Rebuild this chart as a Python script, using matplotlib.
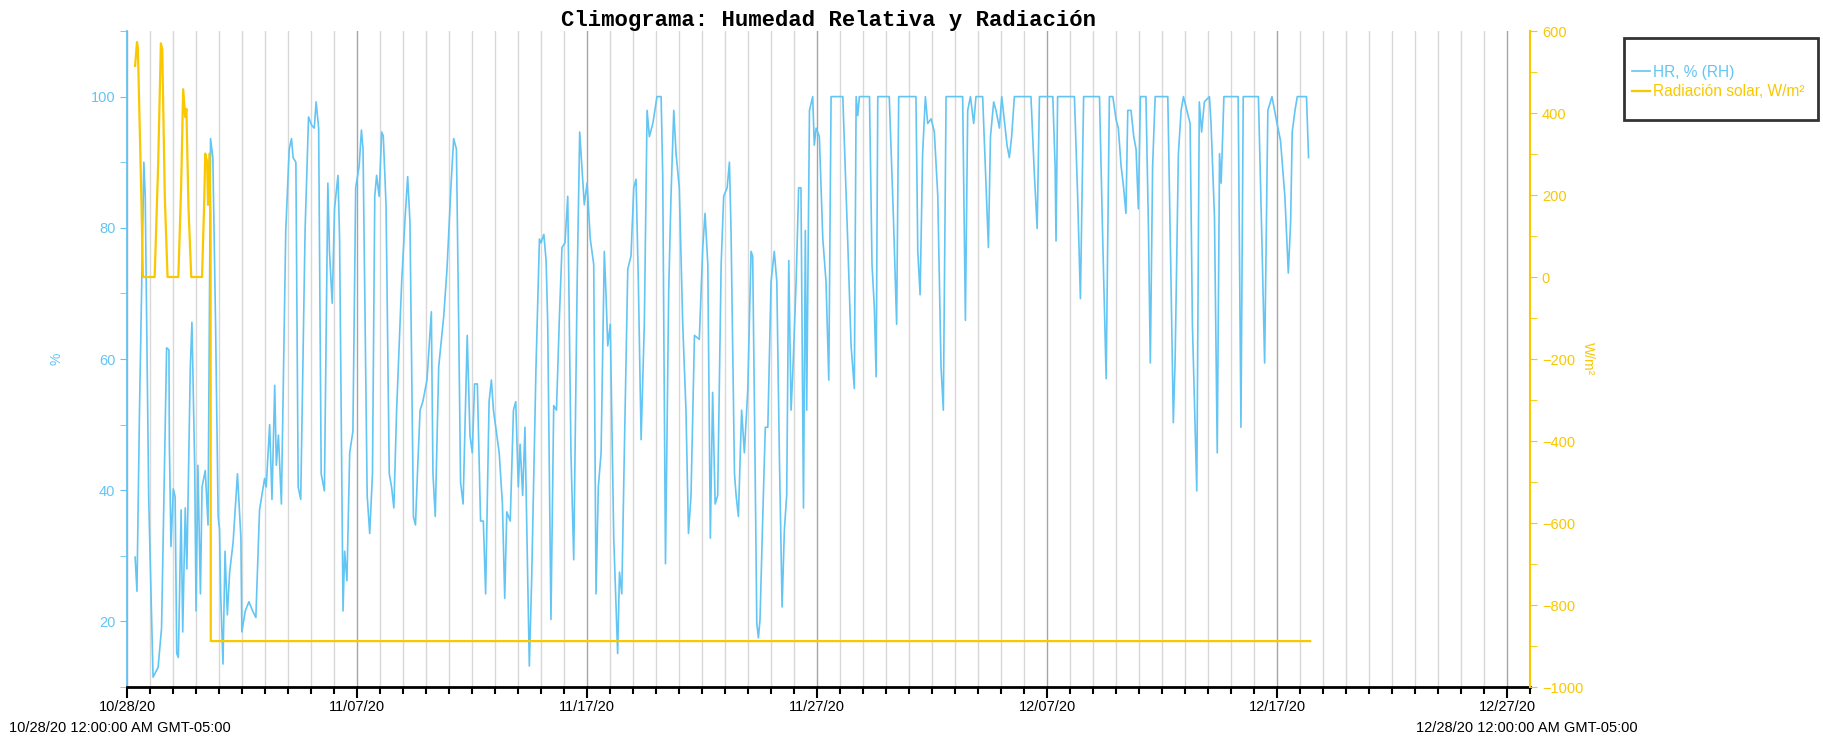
# Climograma: humedad relativa y radiacion solar
import pandas as pd
import matplotlib.pyplot as plt
import matplotlib.dates as mdates
from matplotlib.ticker import MultipleLocator, FixedLocator
from matplotlib.patches import Rectangle

plt.rcParams['font.family'] = ['Liberation Sans', 'DejaVu Sans']

# ==========================================
# DATA (days since 10/28/20 00:00)
# ==========================================

start = pd.Timestamp('2020-10-28')
end = pd.Timestamp('2020-12-28')

rh_days = [
    0.35, 0.43, 0.54, 0.73, 0.79, 0.94, 1.13, 1.35, 1.5, 1.64, 1.72, 1.82, 1.84, 1.91,
    2.01, 2.09, 2.16, 2.23, 2.35, 2.42, 2.53, 2.6, 2.75, 2.82, 2.94, 3.0, 3.08, 3.19,
    3.26, 3.4, 3.52, 3.63, 3.73, 3.85, 3.96, 4.02, 4.07, 4.17, 4.26, 4.36, 4.46, 4.61,
    4.8, 4.95, 4.99, 5.14, 5.3, 5.46, 5.6, 5.76, 5.98, 6.05, 6.2, 6.3, 6.42, 6.49,
    6.58, 6.71, 6.9, 7.05, 7.15, 7.22, 7.34, 7.44, 7.55, 7.74, 7.89, 8.03, 8.14, 8.22,
    8.33, 8.44, 8.58, 8.73, 8.8, 8.92, 9.02, 9.17, 9.24, 9.39, 9.46, 9.56, 9.68, 9.82,
    9.94, 10.09, 10.19, 10.26, 10.44, 10.55, 10.67, 10.77, 10.85, 10.96, 11.07, 11.14,
    11.26, 11.4, 11.5, 11.6, 11.72, 11.94, 12.09, 12.2, 12.3, 12.45, 12.54, 12.64,
    12.74, 12.86, 13.04, 13.23, 13.3, 13.4, 13.55, 13.77, 13.91, 14.09, 14.2, 14.32,
    14.42, 14.5, 14.61, 14.79, 14.91, 15.01, 15.11, 15.23, 15.37, 15.49, 15.59, 15.74,
    15.84, 15.93, 16.03, 16.18, 16.32, 16.42, 16.51, 16.66, 16.8, 16.9, 17.01, 17.09,
    17.2, 17.3, 17.39, 17.49, 17.59, 17.78, 17.93, 18.0, 18.12, 18.22, 18.29, 18.43,
    18.55, 18.67, 18.8, 18.91, 19.04, 19.16, 19.3, 19.42, 19.57, 19.68, 19.88, 20.0,
    20.14, 20.29, 20.39, 20.49, 20.61, 20.75, 20.83, 20.9, 21.01, 21.16, 21.33, 21.41,
    21.51, 21.62, 21.77, 21.91, 22.03, 22.13, 22.23, 22.35, 22.49, 22.61, 22.71, 22.86,
    23.04, 23.22, 23.29, 23.41, 23.55, 23.65, 23.77, 23.87, 24.01, 24.16, 24.3, 24.41,
    24.52, 24.67, 24.88, 25.03, 25.13, 25.25, 25.36, 25.46, 25.57, 25.68, 25.83, 25.94,
    26.09, 26.19, 26.26, 26.41, 26.48, 26.58, 26.72, 26.84, 26.99, 27.13, 27.2, 27.28,
    27.38, 27.45, 27.52, 27.64, 27.75, 27.86, 28.0, 28.14, 28.25, 28.36, 28.48, 28.58,
    28.68, 28.77, 28.87, 28.94, 29.09, 29.2, 29.3, 29.41, 29.49, 29.55, 29.67, 29.81,
    29.88, 29.96, 30.1, 30.25, 30.39, 30.51, 30.61, 31.12, 31.33, 31.48, 31.62, 31.7,
    31.77, 31.84, 32.28, 32.39, 32.49, 32.57, 32.64, 33.14, 33.32, 33.46, 33.55, 34.3,
    34.38, 34.48, 34.59, 34.71, 34.81, 34.96, 35.1, 35.25, 35.39, 35.49, 35.61, 36.33,
    36.45, 36.55, 36.67, 36.81, 36.91, 37.2, 37.45, 37.54, 37.68, 37.78, 37.93, 38.03,
    38.26, 38.36, 38.46, 38.58, 39.3, 39.45, 39.57, 39.67, 40.25, 40.35, 40.39, 40.46,
    41.19, 41.33, 41.45, 41.59, 42.28, 42.42, 42.57, 42.71, 42.86, 43.0, 43.1, 43.22,
    43.33, 43.43, 43.51, 43.65, 43.77, 43.87, 43.97, 44.06, 44.3, 44.41, 44.49, 44.59,
    44.7, 45.25, 45.39, 45.49, 45.57, 45.71, 45.83, 45.93, 46.22, 46.32, 46.51, 46.62,
    46.72, 46.84, 47.06, 47.13, 47.28, 47.4, 47.5, 47.57, 47.69, 48.31, 48.43, 48.53,
    49.19, 49.34, 49.46, 49.6, 49.78, 50.0, 50.15, 50.34, 50.49, 50.59, 50.66, 50.78,
    50.88, 51.28, 51.37,
]

rh_values = [
    29.8, 24.6, 52, 90, 84.8, 39, 11.5, 13, 19, 45.7, 61.7, 61.4, 47, 31.4,
    40.2, 39, 15.1, 14.5, 37, 18.4, 37.3, 28, 58.8, 65.6, 43.8, 21.6, 43.8, 24.2,
    40.5, 43, 34.7, 93.6, 90.7, 65, 36, 34, 24.2, 13.5, 30.7, 21, 27.5, 32,
    42.5, 32.7, 18.4, 21.6, 23, 21.6, 20.6, 37, 41.8, 40.5, 50, 38.6, 56, 43.8,
    48.4, 37.9, 79.6, 92, 93.6, 90.7, 90, 40.5, 38.6, 79.6, 96.9, 95.6, 95.2, 99.2,
    95.2, 42.5, 39.9, 86.8, 76.4, 68.5, 82.9, 88, 78.3, 21.6, 30.7, 26.2, 45.7, 49,
    86.1, 89.4, 94.9, 92, 39.2, 33.4, 42.5, 84.8, 88, 84.8, 94.6, 94,
    83.5, 42.5, 40.5, 37.3, 52.2, 71.8, 81.6, 87.8, 80.9, 36, 34.7, 43.8,
    52.2, 53.5, 56.8, 67.2, 42.5, 36, 58.8, 66.6, 73.7, 86.8, 93.6, 92,
    65, 41.2, 37.9, 63.6, 48.3, 45.7, 56.2, 56.2, 35.3, 35.3, 24.2, 53.5,
    56.8, 52.2, 49.6, 45.7, 37.9, 23.5, 36.7, 35.3, 52.2, 53.5, 40.5, 47,
    39.2, 49.6, 32.7, 13.2, 26.2, 58.8, 78.3, 77.7, 79, 75, 65.3, 20.3,
    52.9, 52.2, 66.6, 77, 77.7, 84.8, 45.7, 29.4, 71.8, 94.6, 83.5, 86.8,
    78.3, 74.4, 24.2, 40.5, 45.7, 76.4, 69.2, 62, 65.3, 32.7, 15.1, 27.5,
    24.2, 45.7, 73.7, 75.7, 86.1, 87.4, 71.8, 47.7, 65.3, 97.9, 93.9, 95.9,
    100, 100, 88, 28.8, 70.5, 84.8, 97.9, 91.3, 86.1, 65.3, 52.2, 33.4,
    39.2, 63.6, 63, 77, 82.2, 74.4, 32.7, 54.9, 37.9, 39.2, 74.4, 84.8,
    86.1, 90, 79.6, 42.5, 39.2, 36, 52.2, 45.7, 55.5, 76.4, 75.7, 52.2,
    19.7, 17.5, 20.3, 36, 49.6, 49.6, 71.8, 76.4, 71.8, 45.7, 22.2, 34,
    39.2, 75, 52.2, 57.5, 71.8, 86.1, 86.1, 37.3, 79.6, 52.2, 97.9, 100,
    92.6, 95.2, 93.9, 78.3, 71.8, 56.8, 100, 100, 78.3, 62, 55.5, 100,
    97.1, 100, 100, 74.4, 67.9, 57.3, 100, 100, 81.6, 65.3, 100, 100,
    76.4, 69.8, 91.3, 100, 95.9, 96.6, 94.6, 84.8, 58.8, 52.2, 100, 100,
    65.9, 97.9, 100, 95.9, 100, 100, 77, 93.9, 99.2, 97.9, 95.2, 100,
    92.6, 90.7, 93.9, 100, 100, 88, 79.9, 100, 100, 89.4, 78, 100,
    100, 84.8, 69.2, 100, 100, 78.3, 57, 100, 100, 96.5, 95.2, 89.4,
    86.1, 82.2, 97.9, 97.9, 93.9, 92, 82.9, 100, 100, 79.6, 59.4, 89.4,
    100, 100, 71.8, 50.3, 60.1, 91.3, 97.9, 100, 95.9, 65.3, 39.9, 99.2,
    94.6, 99.2, 100, 95.9, 81.6, 45.7, 91.3, 86.8, 100, 100, 49.6, 100,
    100, 78.3, 59.4, 97.9, 100, 95.9, 93.3, 84.8, 73.1, 80.9, 94.6, 97.9,
    100, 100, 90.7,
]

rad_days = [
    0.35, 0.43, 0.47, 0.62, 0.69, 1.2, 1.35, 1.47, 1.53, 1.64, 1.76, 2.23, 2.35,
    2.44, 2.53, 2.58, 2.67, 2.79, 3.26, 3.35, 3.4, 3.48, 3.52, 3.58, 3.63, 3.64, 51.44,
]
rad_values = [
    515, 573, 560, 197, 0, 0, 270, 570, 555, 197, 0, 0, 218,
    458, 390, 410, 170, 0, 0, 176, 301, 280, 176, 301, 150, -888, -888,
]

rh_time = start + pd.to_timedelta(rh_days, unit='D')
rad_time = start + pd.to_timedelta(rad_days, unit='D')

blue = '#63c5f3'
yellow = '#f9c800'

# ==========================================
# VISUALIZATION
# ==========================================

fig = plt.figure(figsize=(18.23, 7.40), dpi=100)
ax = fig.add_axes([0.0697, 0.0716, 0.7696, 0.8865])
ax2 = ax.twinx()

l1, = ax.plot(rh_time, rh_values, color=blue, lw=1.2, label='HR, % (RH)')
l2, = ax2.plot(rad_time, rad_values, color=yellow, lw=1.6,
               label='Radiación solar, W/m\u00b2')

# x axis: days, labels every 10 days
ax.set_xlim(start, end)
label_dates = pd.date_range(start, end, freq='10D')
ax.xaxis.set_major_locator(FixedLocator(mdates.date2num(label_dates)))
ax.xaxis.set_minor_locator(mdates.DayLocator())
ax.xaxis.set_major_formatter(mdates.DateFormatter('%m/%d/%y'))
ax.grid(which='minor', axis='x', color='#d8d8d8', lw=1)
ax.grid(which='major', axis='x', color='#a5a5a5', lw=1)
ax.tick_params(axis='x', which='major', length=8, width=1.5, color='black',
               labelsize=10.5, pad=1)
ax.tick_params(axis='x', which='minor', length=5, width=1.5, color='black')

# left axis
ax.set_ylim(10, 110)
ax.yaxis.set_major_locator(MultipleLocator(20))
ax.yaxis.set_minor_locator(MultipleLocator(10))
ax.tick_params(axis='y', which='both', colors=blue, labelsize=10.5, length=5)
ax.set_ylabel('%', color=blue, fontsize=10)
ax.yaxis.set_label_coords(-0.045, 0.5)

# right axis
ax2.set_ylim(-1000, 600)
ax2.yaxis.set_major_locator(MultipleLocator(200))
ax2.yaxis.set_minor_locator(MultipleLocator(100))
ax2.tick_params(axis='y', which='both', colors=yellow, labelsize=10.5, length=5)
ax2.set_ylabel('W/m\u00b2', color=yellow, fontsize=10, rotation=270)
ax2.yaxis.set_label_coords(1.046, 0.5)

for s in ['top', 'right']:
    ax.spines[s].set_visible(False)
for s in ['top', 'left', 'bottom']:
    ax2.spines[s].set_visible(False)
ax.spines['left'].set_color(blue)
ax.spines['left'].set_linewidth(1.3)
ax.spines['bottom'].set_color('black')
ax.spines['bottom'].set_linewidth(2)
ax2.spines['right'].set_color(yellow)
ax2.spines['right'].set_linewidth(1.5)

fig.text(0.4542, 0.972, 'Climograma: Humedad Relativa y Radiación',
         family='Liberation Mono', fontweight='bold', fontsize=16,
         ha='center', va='center')

fig.text(0.005, 0.016, '10/28/20 12:00:00 AM GMT-05:00', fontsize=10.5,
         ha='left', va='center')
fig.text(0.7765, 0.016, '12/28/20 12:00:00 AM GMT-05:00', fontsize=10.5,
         ha='left', va='center')

# legend box
fig.patches.append(Rectangle((0.8908, 0.8378), 0.1067, 0.1108,
                             transform=fig.transFigure, fill=False,
                             lw=2, ec='#333333'))
fig.legend(handles=[l1, l2], loc='center left', bbox_to_anchor=(0.8955, 0.889),
           frameon=False, borderpad=0, borderaxespad=0, handlelength=1.1,
           handletextpad=0.2, labelspacing=0.3, fontsize=11.2,
           labelcolor='linecolor')

plt.savefig('out.png', dpi=100)
